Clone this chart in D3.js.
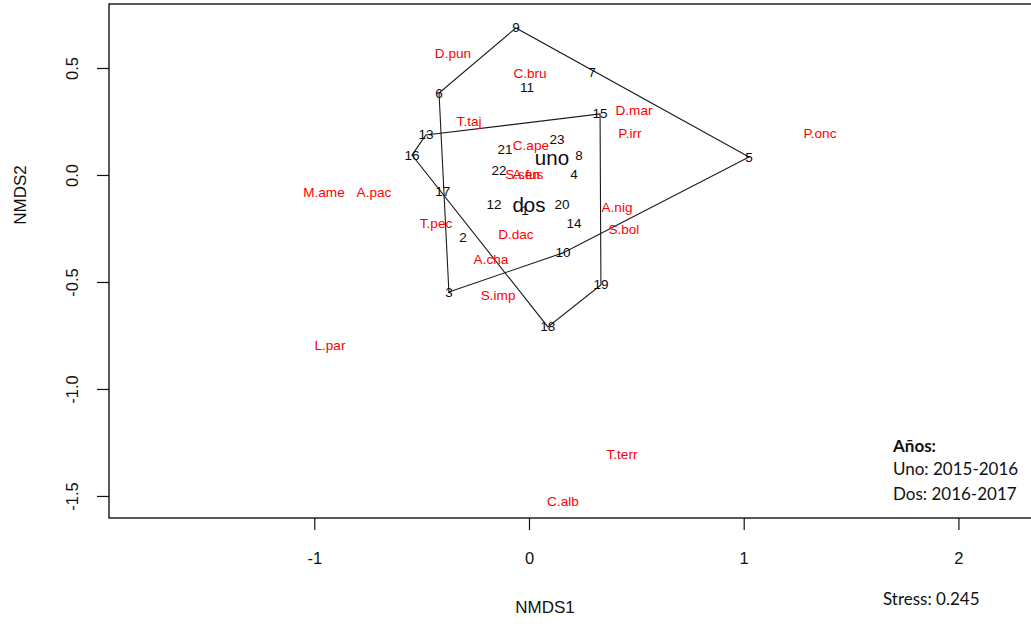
<html>
    <head>
        <title>NMDS</title>
        <script src="https://d3js.org/d3.v7.min.js"></script>
    </head>

    <style>
        body {
        margin: 0;
        background: #fff;
        }

        svg {
        width: 1031px;
        height: 628px;
        display: block;
        }

        text {
        font-family: 'Liberation Sans', Arial, sans-serif;
        }

        .frame {
        fill: none;
        stroke: #000;
        stroke-width: 1.3;
        }

        .hull {
        fill: none;
        stroke: #1a1a1a;
        stroke-width: 1.1;
        }

        text.site {
        font-size: 13.5px;
        fill: #0a0a14;
        }

        text.species {
        font-size: 13.6px;
        fill: #ff0000;
        }

        text.group {
        font-size: 20.5px;
        fill: #0a0a14;
        }

        text.tick {
        font-size: 16.5px;
        fill: #111;
        }

        text.axis-title {
        font-size: 17px;
        fill: #111;
        }

        text.legend {
        font-family: Lato, 'Open Sans', sans-serif;
        font-size: 17px;
        fill: #111;
        }
    </style>

    <body>
        <svg></svg>

    <script>
        // sites (black numbers) and the year group they belong to
        const siteLabels = ['1', '2', '3', '4', '5', '6', '7', '8', '9', '10', '11', '12',
                            '13', '14', '15', '16', '17', '18', '19', '20', '21', '22', '23'];
        const siteX = [-0.019, -0.307, -0.373, 0.210, 1.025, -0.419, 0.293, 0.233, -0.061, 0.158, -0.009, -0.163,
                       -0.480, 0.210, 0.331, -0.545, -0.401, 0.088, 0.335, 0.154, -0.112, -0.140, 0.130];
        const siteY = [-0.164, -0.294, -0.547, 0.000, 0.084, 0.383, 0.481, 0.093, 0.687, -0.364, 0.411, -0.140,
                       0.187, -0.229, 0.285, 0.093, -0.075, -0.710, -0.514, -0.140, 0.117, 0.019, 0.168];
        const siteGroup = ['uno', 'uno', 'uno', 'uno', 'uno', 'uno', 'uno', 'uno', 'uno', 'uno', 'uno', 'dos',
                           'dos', 'dos', 'dos', 'dos', 'dos', 'dos', 'dos', 'dos', 'dos', 'dos', 'dos'];

        // species scores (red labels)
        const speciesLabels = ['D.pun', 'C.bru', 'D.mar', 'P.irr', 'T.taj', 'C.ape', 'P.onc', 'S.sen', 'A.fus',
                               'M.ame', 'A.pac', 'T.pec', 'D.dac', 'A.nig', 'S.bol', 'A.cha', 'S.imp',
                               'L.par', 'T.terr', 'C.alb'];
        const speciesX = [-0.354, 0.005, 0.489, 0.470, -0.279, 0.009, 1.355, -0.030, -0.005,
                          -0.955, -0.722, -0.433, -0.061, 0.410, 0.442, -0.177, -0.144,
                          -0.927, 0.433, 0.158];
        const speciesY = [0.570, 0.472, 0.299, 0.196, 0.252, 0.136, 0.192, 0.000, 0.000,
                          -0.084, -0.084, -0.229, -0.280, -0.154, -0.257, -0.393, -0.561,
                          -0.799, -1.304, -1.528];

        // group label positions
        const groupNames = ['uno', 'dos'];
        const groupX = [0.107, 0.000];
        const groupY = [0.084, -0.136];

        const xTicks = [-1, 0, 1, 2];
        const yTicks = [0.5, 0.0, -0.5, -1.0, -1.5];
        const legendTitle = 'Años:';
        const legendLines = ['Uno: 2015-2016', 'Dos: 2016-2017'];
        const stressText = 'Stress: 0.245';

        const svg = d3.select('svg');

        const plotLeft = 109, plotRight = 1031, plotTop = 4, plotBottom = 518;

        const xScale = d3.scaleLinear()
        .domain([-1.956, 2.338])
        .range([plotLeft, plotRight]);

        const yScale = d3.scaleLinear()
        .domain([-1.603, 0.799])
        .range([plotBottom, plotTop]);

        // R prints a plain hyphen for negatives
        const hyphen = (f) => (v) => f(v).replace('\u2212', '-');

        // axes, styled like R base graphics
        const xAxis = svg.append('g')
        .attr('transform', `translate(0, ${plotBottom})`)
        .call(d3.axisBottom(xScale).tickValues(xTicks).tickSize(12).tickPadding(22)
            .tickFormat(hyphen(d3.format('d'))));
        xAxis.select('.domain').remove();
        xAxis.selectAll('line').attr('stroke', '#111').attr('stroke-width', 1.2);
        xAxis.attr('font-family', null).attr('font-size', null);
        xAxis.selectAll('text').attr('class', 'tick');

        const yAxis = svg.append('g')
        .attr('transform', `translate(${plotLeft}, 0)`)
        .call(d3.axisLeft(yScale).tickValues(yTicks).tickSize(12)
            .tickFormat(hyphen(d3.format('.1f'))));
        yAxis.select('.domain').remove();
        yAxis.selectAll('line').attr('stroke', '#111').attr('stroke-width', 1.2);
        yAxis.attr('font-family', null).attr('font-size', null);
        yAxis.selectAll('text')
        .attr('class', 'tick')
        .attr('x', null)
        .attr('dy', null)
        .attr('text-anchor', 'middle')
        .attr('dominant-baseline', 'central')
        .attr('transform', 'translate(-37, 0) rotate(-90)');

        svg.append('rect')
        .attr('class', 'frame')
        .attr('x', plotLeft)
        .attr('y', plotTop)
        .attr('width', plotRight - plotLeft + 2)
        .attr('height', plotBottom - plotTop);

        // convex hulls per group
        const hullLine = d3.line().curve(d3.curveLinearClosed);
        groupNames.forEach((g) => {
            const pts = siteLabels
            .map((s, i) => [xScale(siteX[i]), yScale(siteY[i]), siteGroup[i]])
            .filter((p) => p[2] === g)
            .map((p) => [p[0], p[1]]);
            const hull = d3.polygonHull(pts);
            svg.append('path')
            .attr('class', 'hull')
            .attr('d', hullLine(hull));
        });

        svg.append('g')
        .selectAll('text')
        .data(speciesLabels)
        .enter()
        .append('text')
        .attr('class', 'species')
        .attr('x', (d, i) => xScale(speciesX[i]))
        .attr('y', (d, i) => yScale(speciesY[i]))
        .attr('text-anchor', 'middle')
        .attr('dominant-baseline', 'central')
        .text((d) => d);

        svg.append('g')
        .selectAll('text')
        .data(siteLabels)
        .enter()
        .append('text')
        .attr('class', 'site')
        .attr('x', (d, i) => xScale(siteX[i]))
        .attr('y', (d, i) => yScale(siteY[i]))
        .attr('text-anchor', 'middle')
        .attr('dominant-baseline', 'central')
        .text((d) => d);

        svg.append('g')
        .selectAll('text')
        .data(groupNames)
        .enter()
        .append('text')
        .attr('class', 'group')
        .attr('x', (d, i) => xScale(groupX[i]))
        .attr('y', (d, i) => yScale(groupY[i]))
        .attr('text-anchor', 'middle')
        .attr('dominant-baseline', 'central')
        .text((d) => d);

        // axis titles
        svg.append('text')
        .attr('class', 'axis-title')
        .attr('x', 545)
        .attr('y', 613)
        .attr('text-anchor', 'middle')
        .text('NMDS1');

        svg.append('text')
        .attr('class', 'axis-title')
        .attr('transform', `translate(26, 195) rotate(-90)`)
        .attr('text-anchor', 'middle')
        .text('NMDS2');

        // legend
        svg.append('text')
        .attr('class', 'legend')
        .attr('x', 893)
        .attr('y', 452)
        .attr('font-weight', 700)
        .text(legendTitle);

        svg.append('g')
        .selectAll('text')
        .data(legendLines)
        .enter()
        .append('text')
        .attr('class', 'legend')
        .attr('x', 893)
        .attr('y', (d, i) => 475 + i * 25)
        .text((d) => d);

        svg.append('text')
        .attr('class', 'legend')
        .attr('x', 883)
        .attr('y', 605)
        .text(stressText);
    </script>
    </body>
</html>
